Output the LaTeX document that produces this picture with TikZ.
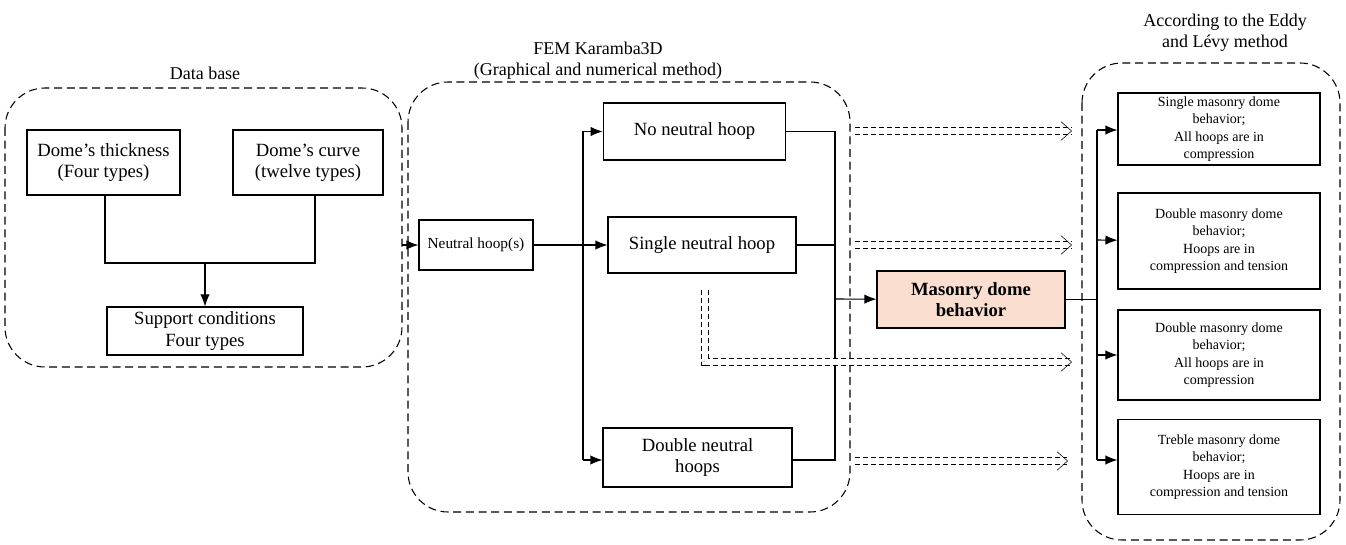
\documentclass[tikz,border=0pt]{standalone}
\usepackage{fontspec}
\setmainfont{Liberation Serif}
\usetikzlibrary{arrows.meta}
\begin{document}
\begin{tikzpicture}[x=0.75pt,y=-0.75pt,
  box/.style={draw,thick,rectangle,align=center,inner sep=0pt,font=\fontsize{14}{16}\selectfont},
  rbox/.style={draw,thick,rectangle,align=center,inner sep=0pt,minimum width=151.5pt,font=\fontsize{10.5}{13}\selectfont},
  grp/.style={draw,thick,dash pattern=on 6pt off 3.5pt,rounded corners=30pt},
  ln/.style={thick},
  ar/.style={thick,-{Latex[length=9pt,width=7pt]}},
  dar/.style={double,double distance=5pt,thin,dash pattern=on 4pt off 2pt,-{Straight Barb[open,length=8pt,width=14pt]}},
  ttl/.style={font=\fontsize{13.5}{16}\selectfont,align=center}]
\useasboundingbox (0,0) rectangle (1346,545);
% groups
\draw[grp] (5,88) rectangle (402,367);
\draw[grp] (408,82) rectangle (850,512);
\draw[grp] (1082,63) rectangle (1340,540);
\node[ttl] (t1) at (205,73) {Data base};
\node[ttl] (t2) at (598,61) {FEM Karamba3D\\(Graphical and numerical method)};
\node[ttl] (t3) at (1225,33) {According to the Eddy\\and Lévy method};
% data base
\node[box,minimum width=114.75pt,minimum height=48.75pt] (th) at (103.5,162.5) {Dome's thickness\\(Four types)};
\node[box,minimum width=112.5pt,minimum height=48.75pt] (cu) at (308,162.5) {Dome's curve\\(twelve types)};
\node[box,minimum width=147pt,minimum height=36pt] (su) at (205,331) {Support conditions\\Four types};
\coordinate (j1) at (105,263); \coordinate (j2) at (315,263); \coordinate (jm) at (205,263);
\draw[ln] (105,195) -- (j1) -- (j2) -- (315,195);
\draw[ar] (jm) -- (su);
% FEM
\node[box,minimum width=85.5pt,minimum height=37.5pt,font=\fontsize{11.5}{13}\selectfont] (nh) at (476,245) {Neutral hoop(s)};
\draw[ar] (402,245) -- (nh);
\node[box,minimum width=137pt,minimum height=42.75pt] (b1) at (694.5,131.5) {No neutral hoop};
\node[box,minimum width=141pt,minimum height=42pt] (b2) at (702,245) {Single neutral hoop};
\node[box,minimum width=141.75pt,minimum height=44.25pt] (b3) at (697.5,457.5) {Double neutral\\hoops};
\coordinate (ta) at (583,131.5); \coordinate (tb) at (583,460); \coordinate (tm) at (583,245);
\draw[ln] (nh) -- (tm);
\draw[ln] (ta) -- (tb);
\draw[ar] (ta) -- (b1);
\draw[ar] (tm) -- (b2);
\draw[ar] (tb) -- (tb-|b3.west);
\coordinate (ca) at (835,131.5); \coordinate (cb) at (835,460); \coordinate (cm) at (835,299);
\draw[ln] (b1) -- (ca) -- (cb) -- (cb-|b3.east);
\draw[ln] (b2) -- (b2-|ca);
\node[box,fill={rgb,255:red,250;green,222;blue,208},minimum width=141pt,minimum height=42.75pt,font=\fontsize{14}{16}\bfseries\selectfont] (ma) at (971,299.5) {Masonry dome\\behavior};
\draw[ar] (cm) -- (ma);
% double dashed
\coordinate (d1) at (855,131); \coordinate (e1) at (1072,131);
\coordinate (d2) at (855,245); \coordinate (e2) at (1072,245);
\coordinate (d4) at (855,461); \coordinate (e4) at (1068,461);
\coordinate (d3) at (705,290); \coordinate (k3) at (705,362); \coordinate (e3) at (1072,362);
\draw[dar] (d1) -- (e1);
\draw[dar] (d2) -- (e2);
\draw[dar] (d4) -- (e4);
\draw[dar] (d3) -- (k3) -- (e3);
% right
\node[rbox,minimum height=54pt] (r1) at (1219,129) {Single masonry dome\\behavior;\\All hoops are in\\compression};
\node[rbox,minimum height=72pt] (r2) at (1219,241) {Double masonry dome\\behavior;\\Hoops are in\\compression and tension};
\node[rbox,minimum height=67.5pt] (r3) at (1219,355) {Double masonry dome\\behavior;\\All hoops are in\\compression};
\node[rbox,minimum height=71pt] (r4) at (1219,467) {Treble masonry dome\\behavior;\\Hoops are in\\compression and tension};
\coordinate (ra) at (1097,130); \coordinate (rb) at (1097,460); \coordinate (rm) at (1097,299.5);
\draw[ln] (ma) -- (rm);
\draw[ln] (ra) -- (rb);
\draw[ar] (ra) -- (ra-|r1.west);
\draw[ar] (1097,240) -- (r2);
\draw[ar] (1097,355) -- (r3);
\draw[ar] (rb) -- (rb-|r4.west);
\end{tikzpicture}
\end{document}
